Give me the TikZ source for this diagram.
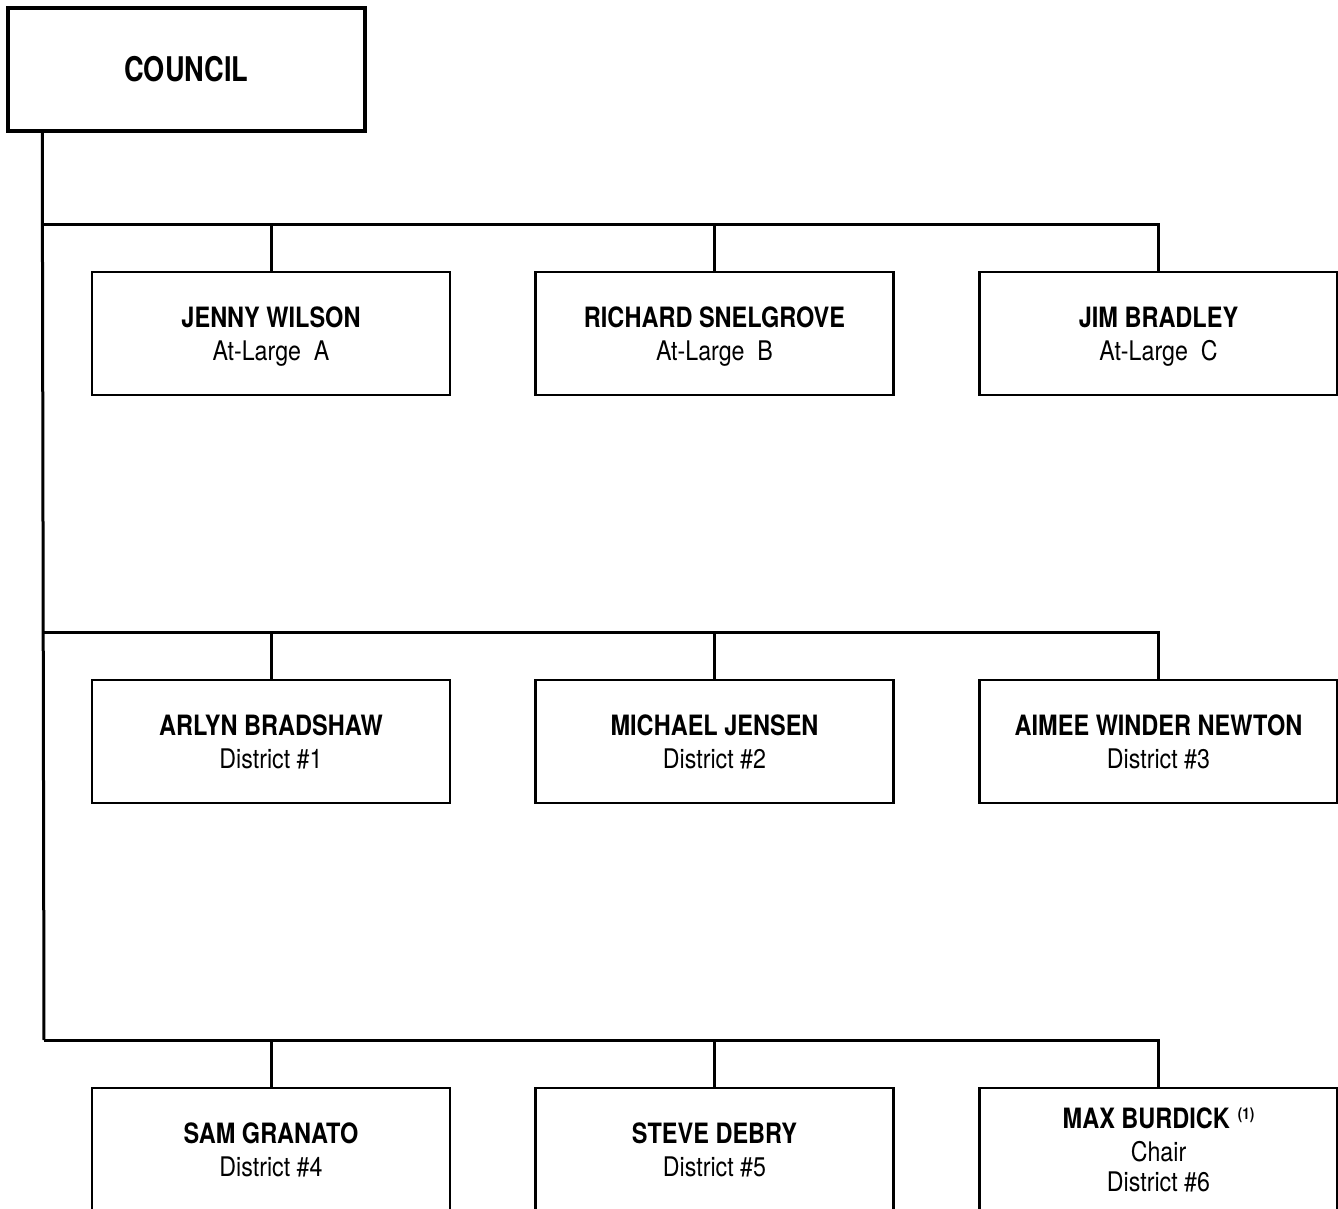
\documentclass[tikz,border=0pt]{standalone}
\usepackage{fontspec}
\setmainfont{TeX Gyre Heros}
\newfontfamily\condfont{TeX Gyre Heros}[FakeStretch=0.86]
\newfontfamily\boldcond{TeX Gyre Heros}[FakeStretch=0.84]
\newfontfamily\councilfont{TeX Gyre Heros}[FakeStretch=0.80]
\newcommand{\nm}[1]{{\boldcond\bfseries\fontsize{28}{30}\selectfont #1}}
\tikzset{
  member/.style={draw, line width=2.2pt, minimum width=358pt, minimum height=123pt,
    inner sep=0pt, align=center, text depth=0pt, font=\condfont\fontsize{27}{30}\selectfont},
  headbox/.style={draw, line width=3.5pt, minimum width=357pt, minimum height=123pt,
    inner sep=0pt, font=\councilfont\bfseries\fontsize{34}{38}\selectfont},
  link/.style={line width=3pt}
}
\begin{document}
\begin{tikzpicture}[x=1pt,y=-1pt]
\useasboundingbox (0,0) rectangle (1338,1209);
\node[headbox] (council) at (186.5,69.5) {COUNCIL};

\node[member] (a1) at (271,333.5) {\nm{JENNY WILSON}\\[3pt]At-Large\ \ A};
\node[member] (a2) at (714.5,333.5) {\nm{RICHARD SNELGROVE}\\[3pt]At-Large\ \ B};
\node[member] (a3) at (1158.5,333.5) {\nm{JIM BRADLEY}\\[3pt]At-Large\ \ C};

\node[member] (d1) at (271,741.5) {\nm{ARLYN BRADSHAW}\\[3pt]District \#1};
\node[member] (d2) at (714.5,741.5) {\nm{MICHAEL JENSEN}\\[3pt]District \#2};
\node[member] (d3) at (1158.5,741.5) {\nm{AIMEE WINDER NEWTON}\\[3pt]District \#3};

\node[member] (e1) at (271,1149.5) {\nm{SAM GRANATO}\\[3pt]District \#4};
\node[member] (e2) at (714.5,1149.5) {\nm{STEVE DEBRY}\\[3pt]District \#5};
\node[member] (e3) at (1158.5,1149.5) {\nm{MAX BURDICK\hspace{8pt}\raisebox{9pt}{\fontsize{16}{16}\selectfont(1)}}\\[3pt]Chair\\District \#6};

\coordinate (trunk) at ([xshift=36pt]council.south west);
\coordinate (bus1) at (44,224);
\coordinate (bus2) at (44,632);
\coordinate (bus3) at (44,1040);

\draw[link] (trunk) -- (bus3);
\draw[link] (bus1) -| (a3.north);
\draw[link] (a1.north) -- (a1.north |- bus1);
\draw[link] (a2.north) -- (a2.north |- bus1);
\draw[link] (bus2) -| (d3.north);
\draw[link] (d1.north) -- (d1.north |- bus2);
\draw[link] (d2.north) -- (d2.north |- bus2);
\draw[link] (bus3) -| (e3.north);
\draw[link] (e1.north) -- (e1.north |- bus3);
\draw[link] (e2.north) -- (e2.north |- bus3);
\end{tikzpicture}
\end{document}
